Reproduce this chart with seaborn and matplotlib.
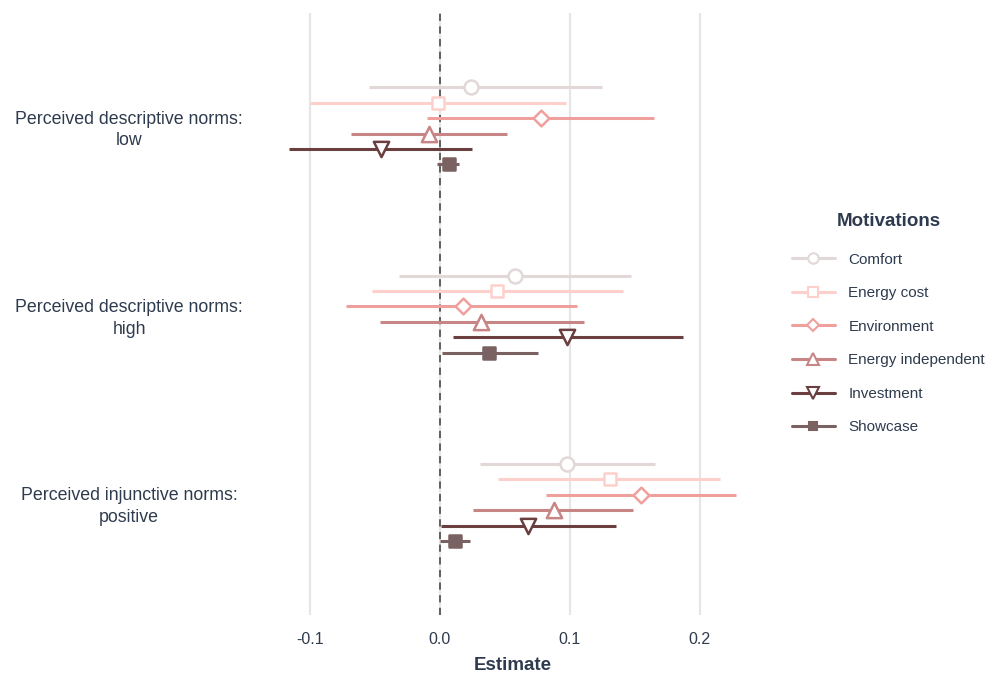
import numpy as np
import matplotlib.pyplot as plt
import seaborn as sns
import pandas as pd
from matplotlib.lines import Line2D

# ---- data ----
norms = ["Perceived descriptive norms:\nlow",
         "Perceived descriptive norms:\nhigh",
         "Perceived injunctive norms:\npositive"]
motivations = ["Comfort", "Energy cost", "Environment",
               "Energy independent", "Investment", "Showcase"]

# estimate / lower / upper, one list per norm, in motivation order
est_low = [0.024, -0.001, 0.078, -0.008, -0.045, 0.007]
lo_low = [-0.054, -0.100, -0.010, -0.068, -0.116, -0.002]
hi_low = [0.125, 0.097, 0.165, 0.052, 0.025, 0.015]

est_high = [0.058, 0.044, 0.018, 0.032, 0.098, 0.038]
lo_high = [-0.031, -0.052, -0.072, -0.046, 0.010, 0.002]
hi_high = [0.147, 0.141, 0.106, 0.111, 0.187, 0.076]

est_pos = [0.098, 0.131, 0.155, 0.088, 0.068, 0.012]
lo_pos = [0.031, 0.045, 0.082, 0.026, 0.001, 0.000]
hi_pos = [0.166, 0.216, 0.228, 0.149, 0.136, 0.023]

colors = ["#e3d8d8", "#fdd0cb", "#ef9f9c", "#c78585", "#6b3e3f", "#7a6262"]
markers = ["o", "s", "D", "^", "v", "s"]
msizes = [10, 9, 8, 11, 11, 8]
filled = [False, False, False, False, False, True]

text_col = "#2e3b4e"

rows = []
for i, (e, l, h) in enumerate([(est_low, lo_low, hi_low),
                               (est_high, lo_high, hi_high),
                               (est_pos, lo_pos, hi_pos)]):
    for j, m in enumerate(motivations):
        rows.append(dict(norm=norms[i], ni=i, motivation=m, mi=j,
                         estimate=e[j], lower=l[j], upper=h[j]))
df = pd.DataFrame(rows)
dodge = 0.082
df["y"] = df["ni"] + (df["mi"] - 2.5) * dodge

sns.set_theme(style="white")
plt.rcParams["font.family"] = ["Liberation Sans", "DejaVu Sans"]

fig = plt.figure(figsize=(9.95, 6.77), dpi=100)
ax = fig.add_axes([0.268, 0.091, 0.494, 0.89])

# light vertical grid
for xv in [-0.1, 0.0, 0.1, 0.2]:
    ax.axvline(xv, color="#e6e6e6", lw=1.6, zorder=0)
ax.axvline(0, color="#555555", lw=1.3, ls=(0, (4, 3)), zorder=1)

handles = []
for j, m in enumerate(motivations):
    sub = df[df["motivation"] == m]
    ax.hlines(sub["y"], sub["lower"], sub["upper"], color=colors[j], lw=2.2, zorder=2)
    face = colors[j] if filled[j] else "white"
    sns.scatterplot(data=sub, x="estimate", y="y", marker=markers[j],
                    s=msizes[j] ** 2, color=face, edgecolor=colors[j],
                    linewidth=1.8, ax=ax, zorder=3, legend=False)
    handles.append(Line2D([0], [0], color=colors[j], lw=2.2, marker=markers[j],
                          markersize=msizes[j] * 0.75, markerfacecolor=face,
                          markeredgecolor=colors[j], markeredgewidth=1.5))

ax.set_xlim(-0.133, 0.245)
ax.set_ylim(2.6, -0.6)
ax.set_xticks([-0.1, 0.0, 0.1, 0.2])
ax.set_xticklabels(["-0.1", "0.0", "0.1", "0.2"])
ax.set_yticks([0, 1, 2])
ax.set_yticklabels(norms)
for t in ax.get_yticklabels():
    t.set_ha("center")
    t.set_multialignment("center")
    t.set_linespacing(1.35)
ax.tick_params(axis="y", length=0, pad=99, labelsize=12.8, labelcolor=text_col)
ax.tick_params(axis="x", length=0, pad=12, labelsize=11.5, labelcolor=text_col)
ax.set_xlabel("Estimate", fontsize=13.5, fontweight="bold", color=text_col, labelpad=7)
ax.set_ylabel("")
sns.despine(ax=ax, left=True, bottom=True)

leg = fig.legend(handles, motivations, loc="upper left",
                 bbox_to_anchor=(0.782, 0.705), frameon=False,
                 title="Motivations", fontsize=11, handlelength=2.8,
                 handletextpad=0.9, labelspacing=1.28)
leg.get_title().set_fontweight("bold")
leg.get_title().set_fontsize(13.5)
leg.get_title().set_color(text_col)
leg._legend_box.align = "center"
leg._legend_box.sep = 16
for t in leg.get_texts():
    t.set_color(text_col)

fig.savefig("out.png", dpi=100)
